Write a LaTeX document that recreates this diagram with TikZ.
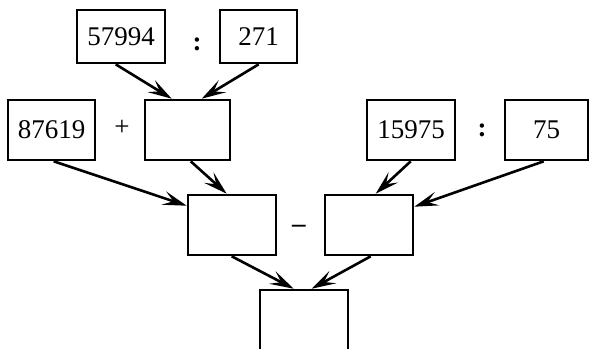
\documentclass[tikz,border=0pt]{standalone}
\usepackage{fontspec}
\setmainfont{Liberation Serif}
\usetikzlibrary{arrows.meta,calc}
\begin{document}
\begin{tikzpicture}[x=1pt,y=-1pt,
  box/.style={draw, line width=2.6pt, inner sep=0pt, font=\fontsize{27}{31}\selectfont},
  op/.style={inner sep=0pt, font=\fontsize{27}{31}\selectfont},
  arr/.style={line width=2.6pt, -{Stealth[length=24pt,width=14pt,inset=10pt]}}]
\clip (0,0) rectangle (593,348);
\fill[white] (0,0) rectangle (593,348);
% row 1
\node[box, minimum width=88pt, minimum height=53pt] (A) at (121,36.5) {57994};
\node[op] (c1) at (197,44) {\textbf{:}};
\node[box, minimum width=77pt, minimum height=53pt] (B) at (258.5,36.5) {271};
% row 2
\node[box, minimum width=87pt, minimum height=60pt] (C) at (51.5,130) {87619};
\node[op] (p1) at (122,128) {+};
\node[box, minimum width=85pt, minimum height=60pt] (D) at (187.5,130) {};
\node[box, minimum width=88pt, minimum height=60pt] (E) at (411,130) {15975};
\node[op] (c2) at (482,130) {\textbf{:}};
\node[box, minimum width=83pt, minimum height=60pt] (F) at (546.5,130) {75};
% row 3
\node[box, minimum width=88pt, minimum height=60pt] (G) at (232,225) {};
\node[op] (m1) at (299,229) {\textbf{–}};
\node[box, minimum width=88pt, minimum height=60pt] (H) at (369,225) {};
% row 4
\node[box, minimum width=88pt, minimum height=80pt] (I) at (304,330) {};
% arrows
\draw[arr] ([xshift=40pt]A.south west) -- ([xshift=28pt]D.north west);
\draw[arr] ([xshift=40pt]B.south west) -- ([xshift=58pt]D.north west);
\draw[arr] ([xshift=47pt]C.south west) -- ([yshift=-12pt]G.north west);
\draw[arr] ([xshift=47pt]D.south west) -- ([xshift=40pt]G.north west);
\draw[arr] ([xshift=45pt]E.south west) -- ([xshift=52pt]H.north west);
\draw[arr] ([xshift=40pt]F.south west) -- ([yshift=-13pt]H.north east);
\draw[arr] ([xshift=45pt]G.south west) -- ([xshift=35pt]I.north west);
\draw[arr] ([xshift=47pt]H.south west) -- ([xshift=53pt]I.north west);
\end{tikzpicture}
\end{document}
